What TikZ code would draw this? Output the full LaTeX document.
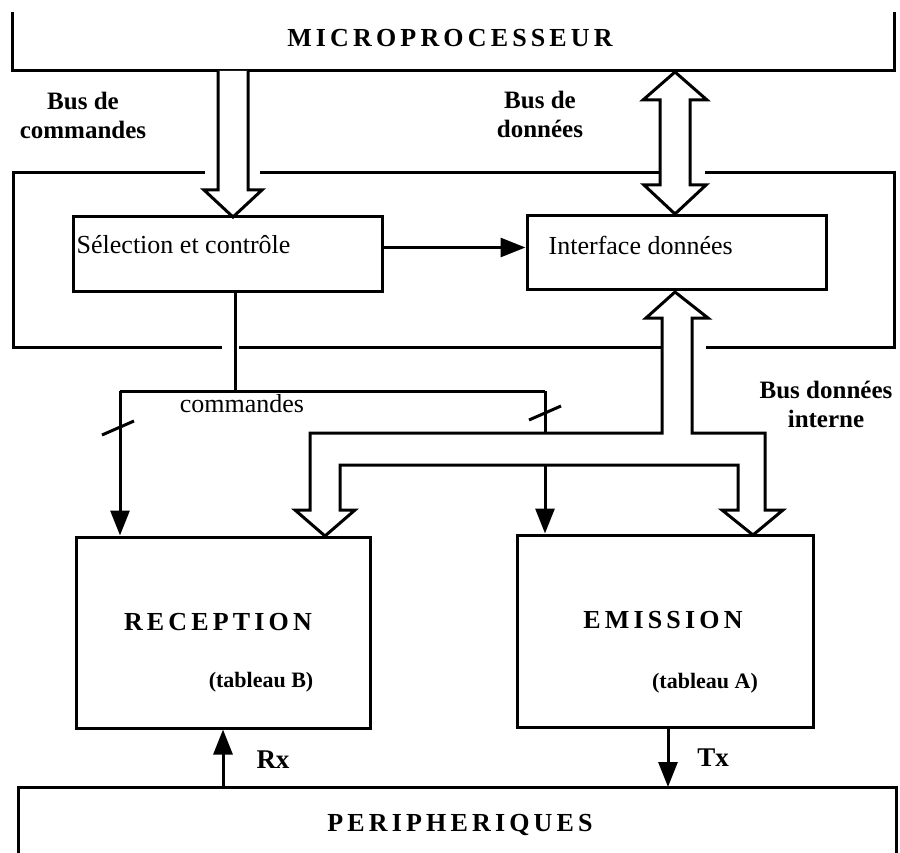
\documentclass[tikz,border=0pt]{standalone}
\usepackage{fontspec}
\setmainfont{Liberation Serif}
\newfontfamily\spacedfont[LetterSpace=16]{Liberation Serif}
\usetikzlibrary{positioning}
\usetikzlibrary {arrows.meta}
\tikzset{blockbox/.style={rectangle,draw=black,line width=3pt,
inner sep=0pt}}
\tikzset{lbl/.style={inner sep=1pt,font=\fontsize{26}{29}\selectfont}}
\tikzset{blbl/.style={inner sep=1pt,align=center,
font=\fontsize{25}{29}\selectfont\bfseries}}
\tikzset{ttl/.style={inner sep=1pt,font=\spacedfont\bfseries\fontsize{26}{28}\selectfont}}
\tikzset{frame/.style={line width=3pt}}
\tikzset{sig/.style={line width=3pt,-{Triangle[length=25pt,width=19pt]}}}
\tikzset{bus/.style={draw=black,fill=white,line width=3pt,line join=miter}}
\begin{document}
\begin{tikzpicture}[x=1pt,y=-1pt]
        \useasboundingbox (0,0) rectangle (900,853);

        % microprocesseur, open at the top
        \draw[frame] (12,12) -- (12,71) -- (894,71) -- (894,12);
        \node[ttl] (microtxt) at (450,38) {MICROPROCESSEUR};

        % circuit frame, gaps for the buses
        \draw[frame] (205,173) -- (13,173) -- (13,347) -- (222,347);
        \draw[frame] (260,173) -- (660,173);
        \draw[frame] (705,173) -- (894,173) -- (894,347) -- (706,347);
        \draw[frame] (239,347) -- (661,347);

        \node[blockbox, minimum width=309pt, minimum height=75pt] (selection) at (227.5,254.5) {};
        \node[blockbox, minimum width=299pt, minimum height=74pt] (interface) at (676.5,253) {};
        \node[lbl, anchor=west] (selectiontxt) at ([xshift=4pt,yshift=10pt]selection.west) {Sélection et contrôle};
        \node[lbl, anchor=west] (interfacetxt) at ([xshift=22pt,yshift=8pt]interface.west) {Interface données};
        \draw[sig] ([yshift=7pt]selection.east) -- ([yshift=7pt]selection.east -| interface.west);

        \node[blockbox, minimum width=294pt, minimum height=191pt] (reception) at (223,632.5) {};
        \node[blockbox, minimum width=296pt, minimum height=192pt] (emission) at (665,631) {};
        \node[ttl] (receptiontxt) at ([xshift=-5pt,yshift=10pt]reception.center) {RECEPTION};
        \node[blbl, font=\fontsize{22}{24}\selectfont\bfseries] (tabB) at ([xshift=38pt,yshift=-50pt]reception.center) {(tableau B)};
        \node[ttl] (emissiontxt) at ([xshift=-2pt,yshift=11pt]emission.center) {EMISSION};
        \node[blbl, font=\fontsize{22}{24}\selectfont\bfseries] (tabA) at ([xshift=40pt,yshift=-52pt]emission.center) {(tableau A)};

        % bus de commandes
        \draw[bus] (218,71) -- (218,190) -- (204,190) -- (233,217) -- (262,190) -- (248,190) -- (248,71);
        \node[blbl] (buscmd) at (83,115) {Bus de\\commandes};

        % bus de donnees
        \draw[bus] (675,72) -- (707,100) -- (690,100) -- (690,185) -- (706,185) -- (675,214)
            -- (644,185) -- (660,185) -- (660,100) -- (643,100) -- cycle;
        \node[blbl] (busdata) at (540,114) {Bus de\\données};

        % commandes
        \coordinate (cmdJ) at (235,391);
        \coordinate (cmdL) at (120,391);
        \coordinate (cmdR) at (545,391);
        \draw[frame] (cmdJ |- selection.south) -- (cmdJ);
        \draw[frame] (cmdL) -- (cmdR);
        \draw[sig] (cmdL) -- (cmdL |- reception.north);
        \draw[sig] (cmdR) -- (cmdR |- emission.north);
        \node[lbl] (cmdtxt) at (242,404) {commandes};
        \coordinate (tickL) at (118,428);
        \coordinate (tickR) at (545,413);
        \draw[frame] ([shift={(-16pt,-7pt)}]tickL) -- ([shift={(16pt,7pt)}]tickL);
        \draw[frame] ([shift={(-16pt,-7pt)}]tickR) -- ([shift={(16pt,7pt)}]tickR);

        % bus donnees interne
        \draw[bus] (675,292) -- (708,318) -- (692,318) -- (692,433) -- (765,433) -- (765,510)
            -- (783,510) -- (753,535) -- (722,510) -- (738,510) -- (738,465) -- (340,465)
            -- (340,510) -- (355,510) -- (325,536) -- (295,510) -- (310,510) -- (310,433)
            -- (662,433) -- (662,318) -- (646,318) -- cycle;
        \node[blbl] (businterne) at (826,404) {Bus données\\interne};

        % peripheriques, open at the bottom
        \draw[frame] (18,853) -- (18,787) -- (896,787) -- (896,853);
        \node[ttl] (periphtxt) at (460,825) {PERIPHERIQUES};
        \coordinate (rxfoot) at (223,787);
        \coordinate (txfoot) at (668,787);
        \draw[sig] (rxfoot) -- (rxfoot |- reception.south);
        \draw[sig] (txfoot |- emission.south) -- (txfoot);
        \node[blbl, font=\fontsize{27}{29}\selectfont\bfseries] (rxtxt) at (273,760) {Rx};
        \node[blbl, font=\fontsize{27}{29}\selectfont\bfseries] (txtxt) at (713,758) {Tx};

    \end{tikzpicture}
\end{document}
